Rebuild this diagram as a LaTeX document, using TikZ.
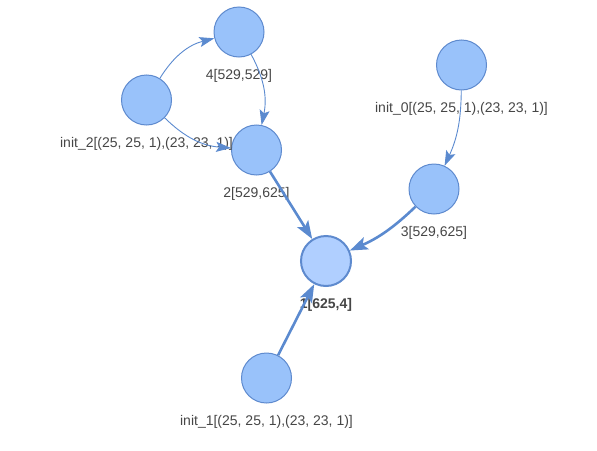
\documentclass[tikz,border=0pt]{standalone}
\usepackage{fontspec}
\setmainfont{Liberation Sans}
\usetikzlibrary{arrows.meta,positioning}
\definecolor{nodeblue}{RGB}{153,194,250}
\definecolor{rootblue}{RGB}{176,207,255}
\definecolor{rimblue}{RGB}{94,138,206}
\definecolor{edgeblue}{RGB}{91,138,207}
\definecolor{txtgray}{RGB}{70,70,70}
\tikzset{
  op/.style={circle, draw=rimblue, fill=nodeblue, line width=1pt,
             minimum size=50pt, inner sep=0pt},
  root/.style={op, fill=rootblue, line width=2pt},
  lbl/.style={font=\fontsize{14}{16}\selectfont, text=txtgray, inner sep=0pt},
  lnk/.style={-{Stealth[length=15pt, width=10pt, inset=3pt]}, edgeblue, line width=0.9pt},
  flow/.style={-{Stealth[length=18pt, width=13pt, inset=4pt]}, edgeblue, line width=2.6pt},
}

\begin{document}
\begin{tikzpicture}[x=1pt, y=1pt]
  \useasboundingbox (0,0) rectangle (597,-450);
  % operands
  \node[op] (n4) at (239,-32) {};
  \node[op] (i2) at (146.5,-100) {};
  \node[op] (n2) at (256.5,-150) {};
  \node[op] (i0) at (461.5,-65) {};
  \node[op] (n3) at (434,-189) {};
  \node[root] (n1) at (326,-261) {};
  \node[op] (i1) at (266.5,-378) {};
  % labels
  \node[lbl, below=12pt of n4] (l4) {4[529,529]};
  \node[lbl, below=12pt of i2] (li2) {init\_2[(25, 25, 1),(23, 23, 1)]};
  \node[lbl, below=12pt of n2] (l2) {2[529,625]};
  \node[lbl, below=12pt of i0] (li0) {init\_0[(25, 25, 1),(23, 23, 1)]};
  \node[lbl, below=12pt of n3] (l3) {3[529,625]};
  \node[lbl, font=\fontsize{14}{16}\selectfont\bfseries, below=11pt of n1] (l1) {1[625,4]};
  \node[lbl, below=12pt of i1] (li1) {init\_1[(25, 25, 1),(23, 23, 1)]};
  % edges
  \draw[lnk] (i2) to[bend left=22] (n4);
  \draw[lnk] (i2) to[bend right=20] (n2);
  \draw[lnk] (n4) to[bend left=20] (n2);
  \draw[lnk] (i0) to[bend left=12] (n3);
  \draw[flow] (n2) -- (n1);
  \draw[flow] (n3) to[bend left=10] (n1);
  \draw[flow] (i1) -- (n1);
\end{tikzpicture}
\end{document}
